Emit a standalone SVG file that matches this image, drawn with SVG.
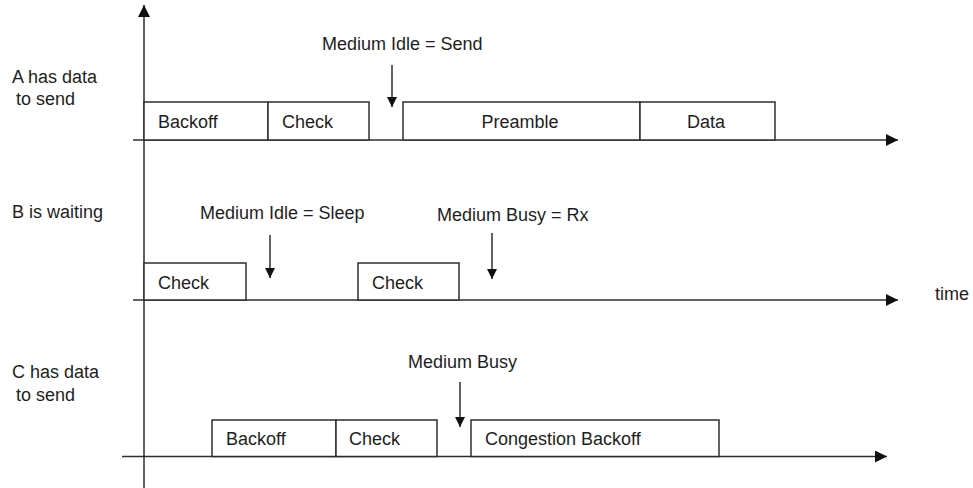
<svg xmlns="http://www.w3.org/2000/svg" width="973" height="488" viewBox="0 0 973 488">
<style>
  text { font-family: "Liberation Sans", Arial, sans-serif; font-size: 18px; fill: #1e1e1e; }
  .ln { stroke: #2e2e2e; stroke-width: 1.5; fill: none; }
  .box { stroke: #2e2e2e; stroke-width: 1.5; fill: #fff; }
  .mid { text-anchor: middle; }
</style>
<defs>
  <marker id="ah" viewBox="0 0 12 12" refX="12" refY="6" markerWidth="12" markerHeight="12" markerUnits="userSpaceOnUse" orient="auto">
    <path d="M0,0 L12,6 L0,12 z" fill="#111"/>
  </marker>
  <marker id="ahs" viewBox="0 0 10 10" refX="10" refY="5" markerWidth="10" markerHeight="10" markerUnits="userSpaceOnUse" orient="auto">
    <path d="M0,0 L10,5 L0,10 z" fill="#111"/>
  </marker>
</defs>
<rect width="973" height="488" fill="#fff"/>

<g id="connectors">
  <line class="ln" x1="144" y1="488" x2="144" y2="5" marker-end="url(#ah)"/>
  <line class="ln" x1="133" y1="140" x2="898" y2="140" marker-end="url(#ah)"/>
  <line class="ln" x1="133" y1="300" x2="898" y2="300" marker-end="url(#ah)"/>
  <line class="ln" x1="122" y1="456.5" x2="887" y2="456.5" marker-end="url(#ah)"/>
  <line class="ln" x1="392" y1="65" x2="392" y2="107" marker-end="url(#ahs)"/>
  <line class="ln" x1="270" y1="235" x2="270" y2="278" marker-end="url(#ahs)"/>
  <line class="ln" x1="492" y1="233" x2="492" y2="279" marker-end="url(#ahs)"/>
  <line class="ln" x1="460" y1="382" x2="460" y2="427" marker-end="url(#ahs)"/>
</g>

<g id="labels">
  <text x="12" y="83">A has data</text>
  <text x="16" y="105">to send</text>
  <text x="12" y="218">B is waiting</text>
  <text x="12" y="378">C has data</text>
  <text x="16" y="401">to send</text>
  <text x="935" y="300">time</text>
  <text x="322" y="50">Medium Idle = Send</text>
  <text x="200" y="219">Medium Idle = Sleep</text>
  <text x="437" y="221">Medium Busy = Rx</text>
  <text x="408" y="368">Medium Busy</text>
</g>

<g id="a-backoff"><rect class="box" x="144" y="102" width="124" height="38"/><text x="158" y="128">Backoff</text></g>
<g id="a-check"><rect class="box" x="268" y="102" width="101" height="38"/><text x="282" y="128">Check</text></g>
<g id="a-preamble"><rect class="box" x="403" y="102" width="237" height="38"/><text class="mid" x="520" y="128">Preamble</text></g>
<g id="a-data"><rect class="box" x="640" y="102" width="135" height="38"/><text class="mid" x="706" y="128">Data</text></g>

<g id="b-check1"><rect class="box" x="144" y="263" width="102" height="37"/><text x="158" y="289">Check</text></g>
<g id="b-check2"><rect class="box" x="358" y="263" width="101" height="37"/><text x="372" y="289">Check</text></g>

<g id="c-backoff"><rect class="box" x="212" y="420" width="124" height="36.5"/><text x="226" y="445">Backoff</text></g>
<g id="c-check"><rect class="box" x="336" y="420" width="101" height="36.5"/><text x="349" y="445">Check</text></g>
<g id="c-congestion"><rect class="box" x="471" y="420" width="248" height="36.5"/><text x="485" y="445">Congestion Backoff</text></g>
</svg>
